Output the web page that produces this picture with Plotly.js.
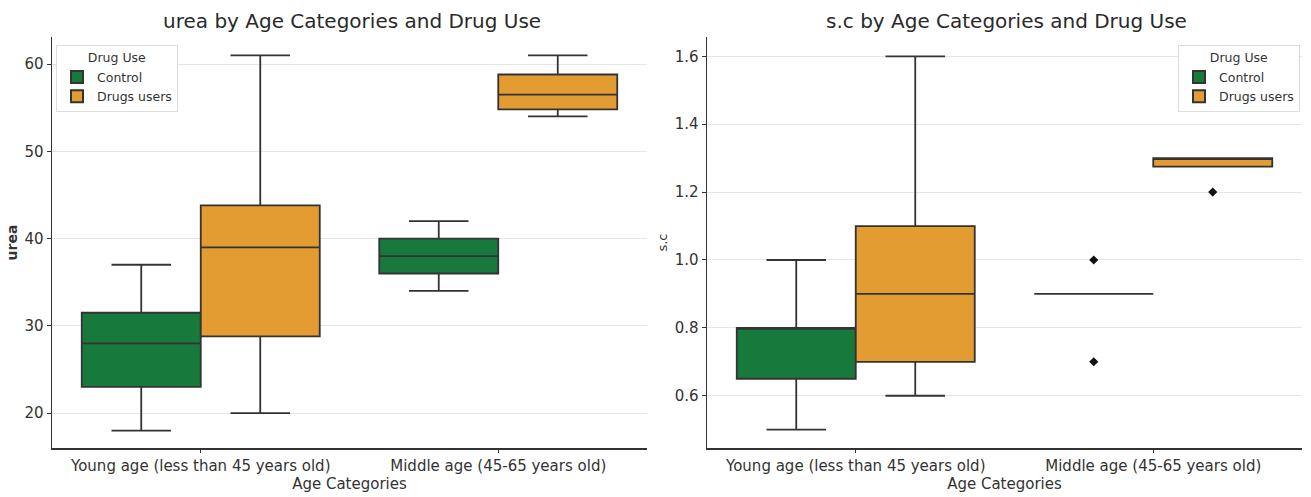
<!DOCTYPE html>
<html>
<head>
<meta charset="utf-8">
<script src="https://cdn.plot.ly/plotly-3.0.1.min.js"></script>
<style>html,body{margin:0;padding:0;background:#fff;}#chart{width:1311px;height:497px;}</style>
</head>
<body>
<div id="chart"></div>
<script>
// ---- data ----
const categories = ["Young age (less than 45 years old)", "Middle age (45-65 years old)"];
const groups = ["Control", "Drugs users"];

// urea (left panel)
const ureaControlLower  = [18, 34];
const ureaControlQ1     = [23, 36];
const ureaControlMedian = [28, 38];
const ureaControlQ3     = [31.5, 40];
const ureaControlUpper  = [37, 42];
const ureaControlOutliers = [[], []];

const ureaDrugsLower  = [20, 54];
const ureaDrugsQ1     = [28.8, 54.8];
const ureaDrugsMedian = [39, 56.5];
const ureaDrugsQ3     = [43.8, 58.8];
const ureaDrugsUpper  = [61, 61];
const ureaDrugsOutliers = [[], []];

// s.c (right panel)
const scControlLower  = [0.5, 0.9];
const scControlQ1     = [0.65, 0.9];
const scControlMedian = [0.8, 0.9];
const scControlQ3     = [0.8, 0.9];
const scControlUpper  = [1.0, 0.9];
const scControlOutliers = [[], [1.0, 0.7]];

const scDrugsLower  = [0.6, 1.275];
const scDrugsQ1     = [0.7, 1.275];
const scDrugsMedian = [0.9, 1.3];
const scDrugsQ3     = [1.1, 1.3];
const scDrugsUpper  = [1.6, 1.3];
const scDrugsOutliers = [[], [1.2]];

const ureaTicks = [20, 30, 40, 50, 60];
const scTicks = [0.6, 0.8, 1.0, 1.2, 1.4, 1.6];

// ---- styles ----
const colors = {"Control": "#177a3c", "Drugs users": "#e29c32"};
const lineColor = "#333333";
const font = "DejaVu Sans, sans-serif";

function boxTraces(name, lo, q1, med, q3, up, outl, xa, ya, legend) {
  const out = [];
  categories.forEach(function (cat, i) {
    const t = {
      type: "box",
      name: name,
      x: [cat],
      q1: [q1[i]], median: [med[i]], q3: [q3[i]], lowerfence: [lo[i]], upperfence: [up[i]],
      xaxis: xa, yaxis: ya,
      legend: legend,
      legendgroup: legend + name,
      showlegend: i === 0,
      fillcolor: colors[name],
      line: {color: lineColor, width: 1.8},
      whiskerwidth: 0.5,
      offsetgroup: name,
      alignmentgroup: xa,
      hoverinfo: "skip",
      boxpoints: false
    };
    if (outl[i].length) {
      t.y = [outl[i]];
      t.boxpoints = "all";
      t.jitter = 0;
      t.pointpos = 0;
      t.marker = {symbol: "diamond", color: "#111", size: 7, line: {width: 0}};
    }
    out.push(t);
  });
  return out;
}

const data = [].concat(
  boxTraces("Control", ureaControlLower, ureaControlQ1, ureaControlMedian, ureaControlQ3, ureaControlUpper, ureaControlOutliers, "x", "y", "legend"),
  boxTraces("Drugs users", ureaDrugsLower, ureaDrugsQ1, ureaDrugsMedian, ureaDrugsQ3, ureaDrugsUpper, ureaDrugsOutliers, "x", "y", "legend"),
  boxTraces("Control", scControlLower, scControlQ1, scControlMedian, scControlQ3, scControlUpper, scControlOutliers, "x2", "y2", "legend2"),
  boxTraces("Drugs users", scDrugsLower, scDrugsQ1, scDrugsMedian, scDrugsQ3, scDrugsUpper, scDrugsOutliers, "x2", "y2", "legend2")
);

const W = 1311, H = 497;
const xAxisCommon = {
  type: "category",
  categoryarray: categories,
  categoryorder: "array",
  range: [-0.5, 1.5],
  showgrid: false,
  zeroline: false,
  showline: true,
  linecolor: "#333",
  linewidth: 1.5,
  ticks: "outside",
  ticklen: 3,
  tickcolor: "#333",
  tickfont: {family: font, size: 15, color: "#333"},
  title: {text: "Age Categories", font: {family: font, size: 15, color: "#333"}, standoff: 2},
  automargin: false,
  fixedrange: true
};
const yAxisCommon = {
  showgrid: true,
  gridcolor: "#e9e5e5",
  gridwidth: 1,
  zeroline: false,
  showline: true,
  linecolor: "#333",
  linewidth: 1.5,
  ticks: "outside",
  ticklen: 4,
  tickcolor: "#333",
  tickfont: {family: font, size: 15, color: "#333"},
  automargin: false,
  fixedrange: true
};

const layout = {
  width: W, height: H,
  margin: {l: 0, r: 0, t: 0, b: 0},
  paper_bgcolor: "#fff",
  plot_bgcolor: "#fff",
  boxmode: "group",
  boxgap: 0.2,
  boxgroupgap: 0,
  showlegend: true,
  xaxis: Object.assign({}, xAxisCommon, {domain: [52 / W, 647 / W], anchor: "y"}),
  xaxis2: Object.assign({}, xAxisCommon, {domain: [707 / W, 1302 / W], anchor: "y2"}),
  yaxis: Object.assign({}, yAxisCommon, {
    domain: [49 / H, 460 / H], anchor: "x", range: [16, 63.1],
    tickvals: ureaTicks,
    title: {text: "urea", font: {family: font, size: 14, color: "#333", weight: "bold"}, standoff: 3}
  }),
  yaxis2: Object.assign({}, yAxisCommon, {
    domain: [49 / H, 460 / H], anchor: "x2", range: [0.446, 1.657],
    tickvals: scTicks, tickformat: ".1f",
    title: {text: "s.c", font: {family: font, size: 13, color: "#333"}, standoff: 4}
  }),
  legend: {
    x: 56 / W, y: 1 - 45 / H, xanchor: "left", yanchor: "top",
    bgcolor: "rgba(255,255,255,0.9)", bordercolor: "#dddddd", borderwidth: 1,
    font: {family: font, size: 12.5, color: "#333"},
    title: {text: "Drug Use", side: "top center", font: {family: font, size: 12.5, color: "#333"}},
    tracegroupgap: 0, itemsizing: "constant"
  },
  legend2: {
    x: 1300 / W, y: 1 - 45 / H, xanchor: "right", yanchor: "top",
    bgcolor: "rgba(255,255,255,0.9)", bordercolor: "#dddddd", borderwidth: 1,
    font: {family: font, size: 12.5, color: "#333"},
    title: {text: "Drug Use", side: "top center", font: {family: font, size: 12.5, color: "#333"}},
    tracegroupgap: 0, itemsizing: "constant"
  },
  annotations: [
    {text: "urea by Age Categories and Drug Use", xref: "paper", yref: "paper",
     x: 352 / W, y: 1 - 21 / H, xanchor: "center", yanchor: "middle", showarrow: false,
     font: {family: font, size: 20, color: "#2a2a2a"}},
    {text: "s.c by Age Categories and Drug Use", xref: "paper", yref: "paper",
     x: 1006 / W, y: 1 - 21 / H, xanchor: "center", yanchor: "middle", showarrow: false,
     font: {family: font, size: 20, color: "#2a2a2a"}}
  ],
  hovermode: false
};

Plotly.newPlot("chart", data, layout, {staticPlot: true, displayModeBar: false});
</script>
</body>
</html>
